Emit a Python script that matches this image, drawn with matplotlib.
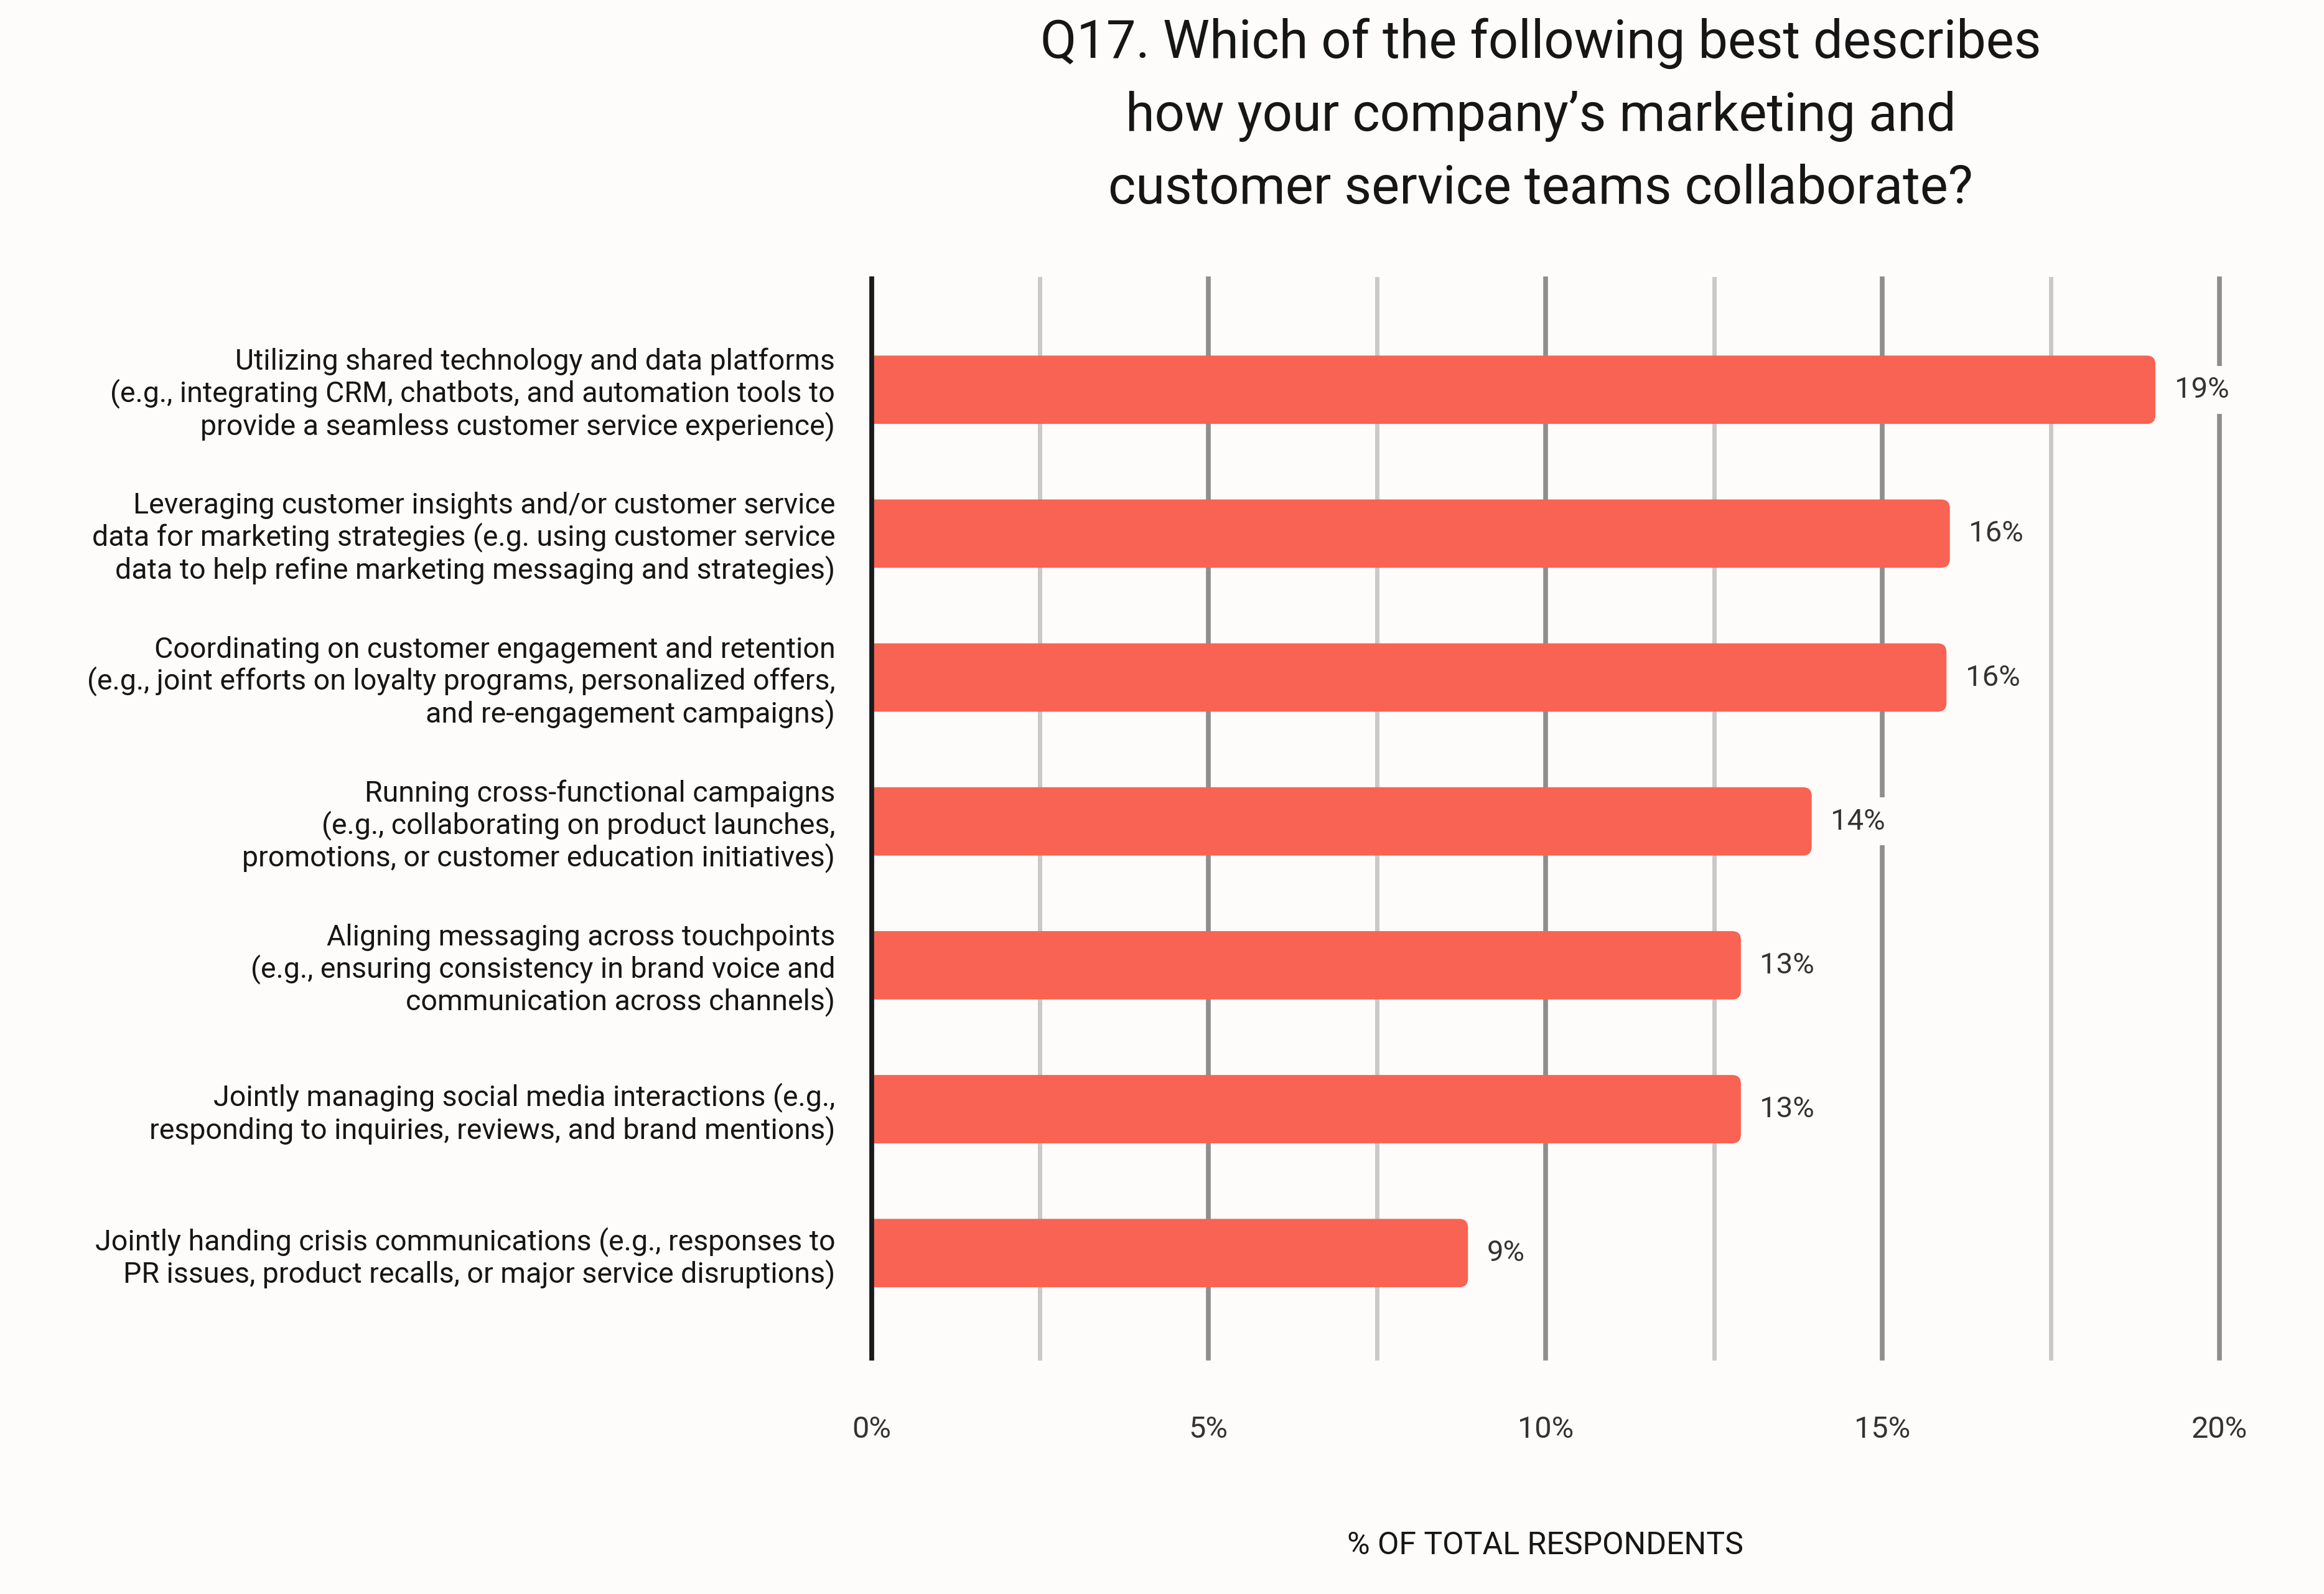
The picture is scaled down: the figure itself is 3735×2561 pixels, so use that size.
import numpy as np
import matplotlib
matplotlib.use("Agg")
import matplotlib.pyplot as plt
from matplotlib.patches import FancyBboxPatch

plt.rcParams['font.family'] = ['Roboto', 'DejaVu Sans']

categories = [
    "Utilizing shared technology and data platforms\n(e.g., integrating CRM, chatbots, and automation tools to\nprovide a seamless customer service experience)",
    "Leveraging customer insights and/or customer service\ndata for marketing strategies (e.g. using customer service\ndata to help refine marketing messaging and strategies)",
    "Coordinating on customer engagement and retention\n(e.g., joint efforts on loyalty programs, personalized offers,\nand re-engagement campaigns)",
    "Running cross-functional campaigns\n(e.g., collaborating on product launches,\npromotions, or customer education initiatives)",
    "Aligning messaging across touchpoints\n(e.g., ensuring consistency in brand voice and\ncommunication across channels)",
    "Jointly managing social media interactions (e.g.,\nresponding to inquiries, reviews, and brand mentions)",
    "Jointly handing crisis communications (e.g., responses to\nPR issues, product recalls, or major service disruptions)",
]
values = [19.05, 16.0, 15.95, 13.95, 12.9, 12.9, 8.85]
value_labels = ["19%", "16%", "16%", "14%", "13%", "13%", "9%"]
major_ticks = [0, 5, 10, 15, 20]
minor_ticks = [2.5, 7.5, 12.5, 17.5]
tick_labels = ["0%", "5%", "10%", "15%", "20%"]

title = "Q17. Which of the following best describes\nhow your company\u2019s marketing and\ncustomer service teams collaborate?"

bg = "#fefcfa"
bar_color = "#f96353"
text_color = "#161616"

fig = plt.figure(figsize=(37.35, 25.61), dpi=100, facecolor=bg)
ax = fig.add_axes([0.375, 0.148, 0.58, 0.677], facecolor=bg)

ypos = np.arange(len(values))
ax.set_xlim(0, 20)
ax.set_ylim(len(values) - 1 + 0.73, -0.77)

# bars with rounded right end (left end hidden behind the axis)
bar_h = 0.475
for y, v in zip(ypos, values):
    p = FancyBboxPatch((-0.4, y - bar_h / 2), v + 0.4, bar_h,
                       boxstyle="round,pad=0,rounding_size=0.13",
                       mutation_aspect=0.47, facecolor=bar_color,
                       edgecolor="none", zorder=2)
    ax.add_patch(p)

for y, v, lab in zip(ypos, values, value_labels):
    ax.annotate(lab, (v, y), xytext=(22, 0), textcoords="offset points",
                ha="left", va="center", fontsize=34, color="#333333",
                bbox=dict(boxstyle="square,pad=0.35", facecolor=bg, edgecolor="none"),
                zorder=3)

ax.set_xticks(major_ticks)
ax.set_xticklabels(tick_labels)
ax.set_xticks(minor_ticks, minor=True)
ax.set_yticks(ypos)
ax.set_yticklabels(categories)
ax.set_axisbelow(True)
ax.grid(which="major", axis="x", color="#8e8e8e", linewidth=5.5)
ax.grid(which="minor", axis="x", color="#c9c9c9", linewidth=5)
ax.grid(which="major", axis="y", visible=False)
for t in ax.xaxis.get_major_ticks() + ax.xaxis.get_minor_ticks():
    t.gridline.set_clip_on(False)

ax.tick_params(axis="x", which="both", length=0, pad=66, labelsize=35, labelcolor="#333333")
ax.tick_params(axis="y", length=0, pad=42, labelsize=33.5, labelcolor=text_color)
for lab in ax.get_yticklabels():
    lab.set_linespacing(1.13)

for s in ["top", "right", "bottom"]:
    ax.spines[s].set_visible(False)
ax.spines["left"].set_color("#1a1a1a")
ax.spines["left"].set_linewidth(5.5)
ax.spines["left"].set_zorder(4)

ax.set_xlabel("% OF TOTAL RESPONDENTS", fontsize=36, color=text_color, labelpad=100)

fig.text(0.663, 0.989, title, ha="center", va="top", fontsize=61,
         color=text_color, linespacing=1.55)

fig.savefig("out.png", dpi=100, facecolor=bg)
